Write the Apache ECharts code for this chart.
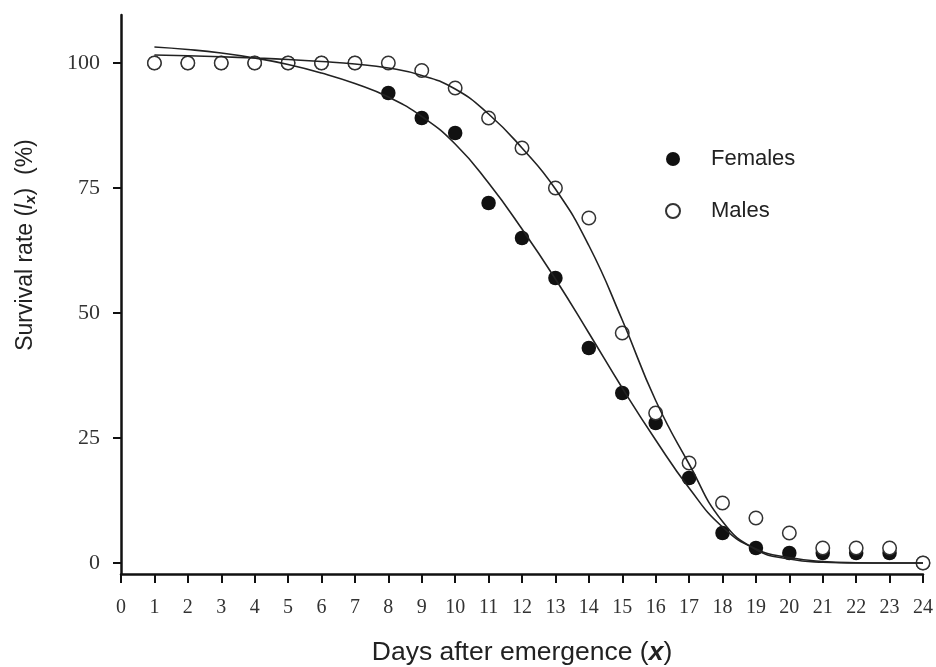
<!DOCTYPE html>
<html>
<head>
<meta charset="utf-8">
<script src="https://cdn.jsdelivr.net/npm/echarts@6/dist/echarts.min.js"></script>
<style>
html,body{margin:0;padding:0;background:#fff;}
#chart{width:936px;height:667px;}
</style>
</head>
<body>
<div id="chart"></div>
<script>
// Days after emergence
var days = [1,2,3,4,5,6,7,8,9,10,11,12,13,14,15,16,17,18,19,20,21,22,23,24];
// Observed survival (%)
var females = [100,100,100,100,100,100,100,94,89,86,72,65,57,43,34,28,17,6,3,2,2,2,2,0];
var males   = [100,100,100,100,100,100,100,100,98.5,95,89,83,75,69,46,30,20,12,9,6,3,3,3,0];
// Fitted curves
var femaleFit = [103.2,102.7,102.0,101.0,99.7,98.0,95.9,93.2,89.3,83.8,76,66.8,56.8,46,35,24.6,15,7.2,2.8,1.1,0.3,0.05,0,0];
var maleFit   = [101.6,101.45,101.25,101.0,100.7,100.3,99.8,99.0,97.5,94.8,89.8,83,74.8,63.5,48.6,32.5,19.8,8.3,2.7,0.8,0.15,0,0,0];
// Axis ticks
var yTicks = [0,25,50,75,100];

function pairs(xs, ys){ return xs.map(function(x,i){ return [x, ys[i]]; }); }

var chart = echarts.init(document.getElementById('chart'), null, {renderer:'canvas'});
var axisColor = '#111';
var sans = 'Liberation Sans, Arial, sans-serif';
var serif = 'Liberation Serif, Times New Roman, serif';
var option = {
  backgroundColor:'#fff',
  animation:false,
  grid:{left:121,right:13,top:15,bottom:93,containLabel:false,outerBoundsMode:'none'},
  legend:{
    orient:'vertical',
    left:660, top:143,
    itemWidth:66, itemHeight:14, itemGap:30,
    textStyle:{fontFamily:sans,fontSize:22,color:'#222'},
    data:[
      {name:'Females',icon:'circle'},
      {name:'Males',icon:'circle'}
    ]
  },
  xAxis:{
    type:'value', min:0, max:24, interval:1,
    name:'Days after emergence ({i|x})',
    nameLocation:'middle', nameGap:65,
    nameTextStyle:{fontFamily:sans,fontSize:26.5,color:'#222',
      rich:{i:{fontFamily:sans,fontSize:26.5,fontStyle:'italic',fontWeight:'bold',color:'#222'}}},
    axisLine:{show:true,onZero:false,lineStyle:{color:axisColor,width:2.5}},
    axisTick:{show:true,inside:false,length:9,lineStyle:{color:axisColor,width:2}},
    axisLabel:{margin:24,fontFamily:serif,fontSize:20,color:'#333'},
    splitLine:{show:false}
  },
  yAxis:{
    type:'value', min:-2.2, max:109.6,
    axisLine:{show:true,onZero:false,lineStyle:{color:axisColor,width:2.5}},
    axisTick:{show:true,length:8,customValues:yTicks,lineStyle:{color:axisColor,width:2}},
    axisLabel:{margin:21,customValues:yTicks,fontFamily:serif,fontSize:22,color:'#333'},
    splitLine:{show:false}
  },
  graphic:[{
    type:'text',
    x:26, y:245,
    rotation:Math.PI/2,
    style:{
      text:'Survival rate ({i|l}{s|x})  (%)',
      fontFamily:sans,
      fontSize:23,
      fill:'#222',
      align:'center',
      verticalAlign:'middle',
      rich:{
        i:{fontFamily:sans,fontSize:23,fontStyle:'italic',fill:'#222'},
        s:{fontFamily:sans,fontSize:15,fontStyle:'italic',fontWeight:'bold',fill:'#222',verticalAlign:'bottom',padding:[10,0,0,0]}
      }
    }
  }],
  series:[
    {
      name:'Females', type:'scatter', z:2,
      symbol:'circle', symbolSize:14.5,
      itemStyle:{color:'#111',borderColor:'#111',borderWidth:0,opacity:1},
      data:pairs(days, females)
    },
    {
      name:'Males', type:'scatter', z:3,
      symbol:'circle', symbolSize:13.5,
      itemStyle:{color:'#fff',borderColor:'#333',borderWidth:1.5,opacity:1},
      data:pairs(days, males)
    },
    {
      name:'Female fit', type:'line', z:4, smooth:0.5,
      showSymbol:false, symbol:'none',
      lineStyle:{color:'#222',width:1.6},
      data:pairs(days, femaleFit)
    },
    {
      name:'Male fit', type:'line', z:4, smooth:0.5,
      showSymbol:false, symbol:'none',
      lineStyle:{color:'#222',width:1.6},
      data:pairs(days, maleFit)
    }
  ]
};
chart.setOption(option);
</script>
</body>
</html>
